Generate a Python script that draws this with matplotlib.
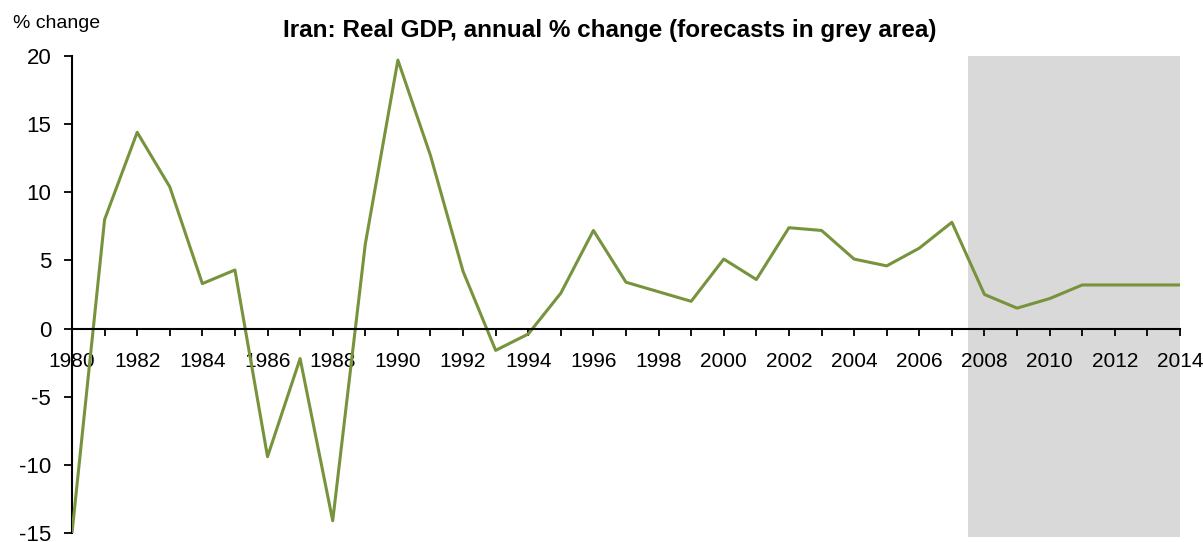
import matplotlib.pyplot as plt

# Iran real GDP growth, annual % change
years = list(range(1980, 2015))
gdp_change = [-15.0, 8.0, 14.4, 10.4, 3.3, 4.3, -9.4, -2.2, -14.1, 6.2,
              19.7, 12.7, 4.2, -1.6, -0.4, 2.6, 7.2, 3.4, 2.7, 2.0,
              5.1, 3.6, 7.4, 7.2, 5.1, 4.6, 5.9, 7.8, 2.5, 1.5,
              2.2, 3.2, 3.2, 3.2, 3.2]
forecast_start = 2007.5
xtick_years = list(range(1980, 2015, 2))
yticks = [-15, -10, -5, 0, 5, 10, 15, 20]

plt.rcParams['font.family'] = ['Liberation Sans', 'DejaVu Sans']

fig = plt.figure(figsize=(12.03, 5.42), dpi=100)
ax = fig.add_axes([72 / 1203, 1 - 533 / 542, (1180 - 72) / 1203, (533 - 56) / 542])

ax.axvspan(forecast_start, 2014, ymin=-0.008, ymax=1.0, color='#d9d9d9', lw=0, zorder=0, clip_on=False)
ax.plot(years, gdp_change, color='#77933c', lw=2.2, zorder=3)

ax.set_xlim(1980, 2014)
ax.set_ylim(-15, 20)

ax.spines['top'].set_visible(False)
ax.spines['right'].set_visible(False)
ax.spines['bottom'].set_position(('data', 0))
ax.spines['bottom'].set_linewidth(1.5)
ax.spines['left'].set_linewidth(1.5)
ax.spines['bottom'].set_zorder(4)

ax.set_xticks(years, minor=True)
ax.set_xticks(xtick_years)
ax.set_xticklabels([str(y) for y in xtick_years], fontsize=15)
ax.tick_params(axis='x', which='both', direction='out', length=5, width=1.3, pad=12)
ax.set_yticks(yticks)
ax.set_yticklabels([str(v) for v in yticks], fontsize=16)
ax.tick_params(axis='y', direction='out', length=6, width=1.3, pad=9)

fig.text(13 / 1203, 1 - 24 / 542, '% change', fontsize=14, va='center', ha='left')
fig.text(610 / 1203, 1 - 31 / 542, 'Iran: Real GDP, annual % change (forecasts in grey area)',
         fontsize=17.5, fontweight='bold', va='center', ha='center')

fig.savefig('out.png', dpi=100)
